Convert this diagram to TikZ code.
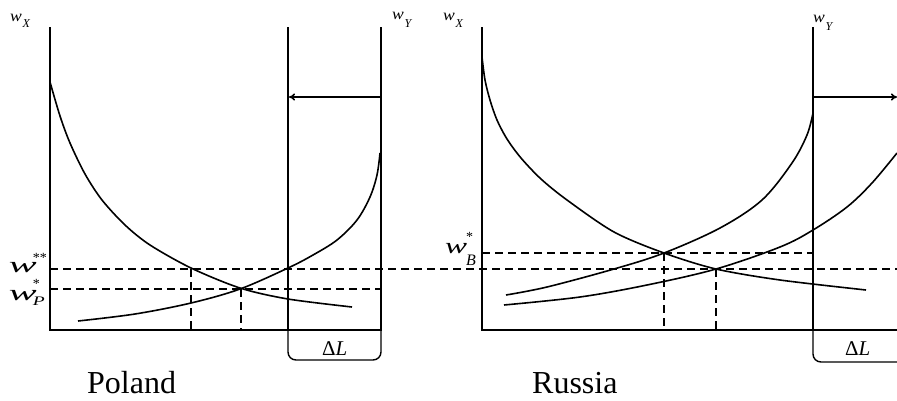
\documentclass[tikz,border=0pt]{standalone}
\usepackage{fontspec}
\usepackage{graphicx}
\setmainfont{Liberation Serif}
\usetikzlibrary{arrows.meta}
\newcommand\fs[1]{\fontsize{#1}{#1}\selectfont}
\begin{document}
\begin{tikzpicture}[x=1pt,y=-1pt,
  axis/.style={line width=1.8pt},
  crv/.style={line width=1.6pt},
  dsh/.style={line width=1.7pt, dash pattern=on 8pt off 5pt},
  arr/.style={line width=1.6pt, -{To[length=6pt,width=7pt]}},
  brk/.style={line width=1.4pt, rounded corners=8pt},
  lbl/.style={inner sep=0pt, outer sep=0pt, anchor=base west},
  country/.style={inner sep=0pt, anchor=base west, font=\fs{32}}
]
\useasboundingbox (0,0) rectangle (897,400);

% ---------- Poland panel ----------
\draw[axis] (50,27) -- (50,330) -- (382,330);
\draw[axis] (288,27) -- (288,330);
\draw[axis] (381,27) -- (381,330);
\draw[arr] (381,97) -- (289,97);

% demand (decreasing)
\draw[crv] plot[smooth,tension=0.5] coordinates {(50,82) (60,116) (70,143) (85,174) (102,200) (125,225) (150,245) (191,268) (240,288) (288,299) (352,307)};
% supply (increasing)
\draw[crv] plot[smooth,tension=0.55] coordinates {(78,321) (135,314) (191,303) (240,289) (288,268) (313,255) (337,240) (357,220) (370,197) (377,175) (380,153)};

\draw[dsh] (50,269) -- (897,269);
\draw[dsh] (50,289) -- (381,289);
\draw[dsh] (191,269) -- (191,330);
\draw[dsh] (241,289) -- (241,330);

\draw[brk] (288,330) -- (288,360) -- (381,360) -- (381,330);
\node[lbl, font=\fs{21}] (dl1) at (322,355) {Δ\textit{L}};

\node[country] (poland) at (87,393) {Poland};

% axis labels Poland
\node[lbl, font=\fs{16}] (wx1) at (10,21) {\scalebox{1.1}[1]{\textit{w}}\kern1pt\raisebox{-6pt}{\fs{12}\textit{X}}};
\node[lbl, font=\fs{16}] (wy1) at (392,19) {\scalebox{1.1}[1]{\textit{w}}\kern1pt\raisebox{-8pt}{\fs{12}\textit{Y}}};

% wage labels
\node[lbl] (wss) at (9,272) {\scalebox{1.9}[1]{\fs{22}\textit{w}}\kern-4pt\raisebox{10pt}{\fs{14}**}};
\node[lbl] (wp) at (9,300) {\scalebox{1.9}[1]{\fs{22}\textit{w}}\kern-4pt\rlap{\raisebox{12pt}{\fs{14}*}}\raisebox{-5pt}{\scalebox{1.5}[1]{\fs{13}\textit{P}}}};

% ---------- Russia panel ----------
\draw[axis] (482,27) -- (482,330) -- (897,330);
\draw[axis] (813,27) -- (813,330);
\draw[arr] (813,97) -- (897,97);

% demand (decreasing)
\draw[crv] plot[smooth,tension=0.5] coordinates {(482,57) (485,80) (490,100) (497,120) (507,139) (521,158) (541,179) (567,200) (614,232) (664,253) (716,269) (780,280) (866,290)};
% supply before (upper)
\draw[crv] plot[smooth,tension=0.55] coordinates {(506,295) (547,287) (614,269) (664,253) (720,228) (762,200) (792,163) (807,135) (813,113)};
% supply after (lower)
\draw[crv] plot[smooth,tension=0.55] coordinates {(504,305) (580,297) (647,285) (716,269) (780,247) (813,230) (847,207) (872,183) (897,153)};

\draw[dsh] (482,253) -- (813,253);
\draw[dsh] (664,253) -- (664,330);
\draw[dsh] (716,269) -- (716,330);

\draw[brk] (813,330) -- (813,362) -- (905,362);
\node[lbl, font=\fs{21}] (dl2) at (845,355) {Δ\textit{L}};

\node[country] (russia) at (532,393) {Russia};

\node[lbl, font=\fs{16}] (wx2) at (443,20) {\scalebox{1.1}[1]{\textit{w}}\kern1pt\raisebox{-7pt}{\fs{12}\textit{X}}};
\node[lbl, font=\fs{16}] (wy2) at (813,22) {\scalebox{1.1}[1]{\textit{w}}\kern1pt\raisebox{-8pt}{\fs{12}\textit{Y}}};

\node[lbl] (wb) at (445,253) {\scalebox{1.5}[1]{\fs{22}\textit{w}}\kern-1pt\rlap{\raisebox{12pt}{\fs{14}*}}\raisebox{-12pt}{\fs{16}\textit{B}}};
\end{tikzpicture}
\end{document}
